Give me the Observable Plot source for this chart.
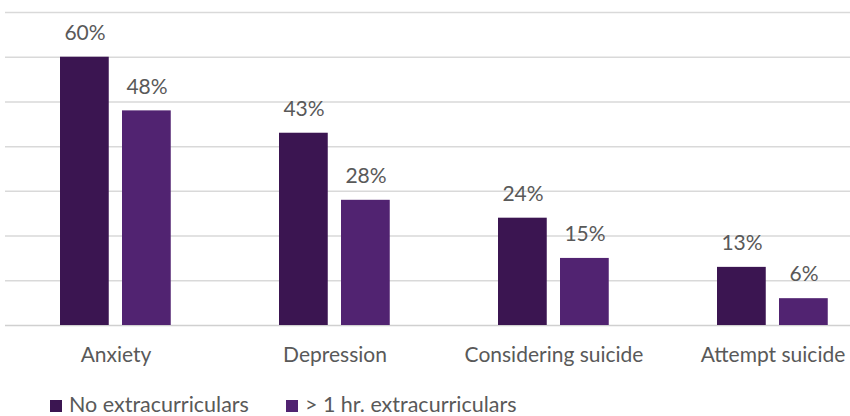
<!DOCTYPE html>
<html>
<head>
<meta charset="utf-8">
<script src="https://cdn.jsdelivr.net/npm/d3@7"></script>
<script src="https://cdn.jsdelivr.net/npm/@observablehq/plot@0.6"></script>
<style>
  html, body { margin: 0; padding: 0; background: #fff; overflow: hidden; }
  #wrap { position: relative; width: 850px; height: 416px; font-family: Lato, sans-serif; }
  #legend { position: absolute; left: 50px; top: 394px; height: 21px; line-height: 21px; display: flex; align-items: center; font-size: 21.5px; color: #595959; white-space: nowrap; }
  .item { display: flex; align-items: center; height: 21px; }
  .sw { width: 12px; height: 12px; margin-right: 7px; margin-top: 3px; }
</style>
</head>
<body>
<div id="wrap"><div id="chart"></div><div id="legend"></div></div>
<script>
const categories = ["Anxiety", "Depression", "Considering suicide", "Attempt suicide"];
const seriesNames = ["No extracurriculars", "> 1 hr. extracurriculars"];
const noExtra = [60, 43, 24, 13];
const overOneHour = [48, 28, 15, 6];
const colors = ["#3b1551", "#512371"];
const gridTicks = [10, 20, 30, 40, 50, 60, 70];

const rows = [];
categories.forEach((c, i) => {
  rows.push({category: c, series: seriesNames[0], value: noExtra[i]});
  rows.push({category: c, series: seriesNames[1], value: overOneHour[i]});
});
const s0 = rows.filter(d => d.series === seriesNames[0]);
const s1 = rows.filter(d => d.series === seriesNames[1]);

const textColor = "#595959";

const chart = Plot.plot({
  width: 850,
  height: 390,
  marginLeft: 5,
  marginRight: -32,
  marginTop: 12,
  marginBottom: 65,
  style: {fontFamily: "Lato, sans-serif", fontSize: "21px", color: textColor, overflow: "hidden", background: "#fff"},
  x: {domain: categories, padding: 0, label: null},
  y: {domain: [0, 70], axis: null},
  color: {domain: seriesNames, range: colors},
  marks: [
    Plot.ruleY(gridTicks, {stroke: "#d9d9d9", strokeWidth: 1.5}),
    Plot.ruleY([0], {stroke: "#d0d0d0", strokeWidth: 1.5}),
    Plot.barY(s0, {x: "category", y: "value", fill: "series", insetLeft: 54, insetRight: 116.25}),
    Plot.barY(s1, {x: "category", y: "value", fill: "series", insetLeft: 116, insetRight: 54.25}),
    Plot.text(s0, {x: "category", y: "value", text: d => d.value + "%", dx: -31, dy: -24, fill: textColor, fontSize: 21, lineAnchor: "middle"}),
    Plot.text(s1, {x: "category", y: "value", text: d => d.value + "%", dx: 31, dy: -24, fill: textColor, fontSize: 21, lineAnchor: "middle"}),
    Plot.axisX({tickSize: 0, tickPadding: 22, fontSize: 21, color: textColor, label: null})
  ]
});
document.getElementById("chart").appendChild(chart);

const legend = d3.select("#legend");
seriesNames.forEach((name, i) => {
  const item = legend.append("div").attr("class", "item").style("margin-right", i === 0 ? "37px" : "0");
  item.append("div").attr("class", "sw").style("background", colors[i]);
  item.append("span").text(name);
});
</script>
</body>
</html>
